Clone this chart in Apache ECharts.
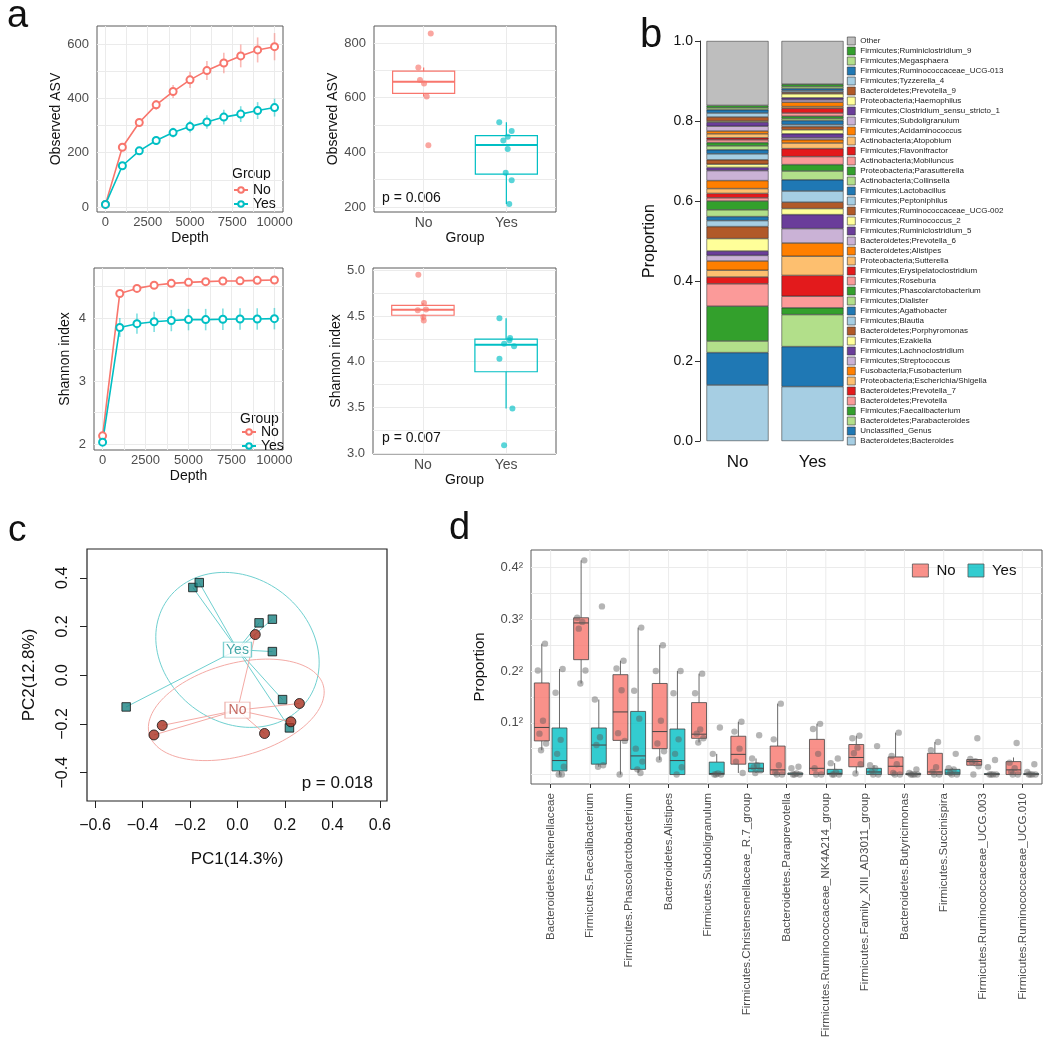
<!DOCTYPE html>
<html>
<head>
<meta charset="utf-8">
<title>Figure</title>
<script src="https://cdn.jsdelivr.net/npm/echarts@6.0.0/dist/echarts.min.js"></script>
<style>
  html, body { margin: 0; padding: 0; background: #fff; }
  #chart { width: 1050px; height: 1048px; }
</style>
</head>
<body>
<div id="chart"></div>
<script>
// ---------- panel a: rarefaction (mean +/- sd) ----------
var depths = [0, 1000, 2000, 3000, 4000, 5000, 6000, 7000, 8000, 9000, 10000];
var asvNo = [10, 220, 311, 376, 425, 468, 502, 530, 556, 578, 590];
var asvNoSd = [0, 8, 12, 18, 24, 30, 35, 38, 42, 46, 50];
var asvYes = [10, 152, 207, 245, 274, 296, 313, 331, 342, 355, 366];
var asvYesSd = [0, 6, 10, 14, 18, 22, 25, 27, 29, 31, 33];
var shanNo = [2.13, 4.39, 4.47, 4.52, 4.55, 4.566, 4.577, 4.587, 4.59, 4.598, 4.603];
var shanNoSd = [0, 0.03, 0.03, 0.03, 0.03, 0.03, 0.03, 0.03, 0.03, 0.03, 0.03];
var shanYes = [2.03, 3.85, 3.91, 3.94, 3.96, 3.975, 3.975, 3.98, 3.985, 3.985, 3.99];
var shanYesSd = [0, 0.15, 0.16, 0.16, 0.17, 0.17, 0.17, 0.17, 0.17, 0.17, 0.17];

// ---------- panel a: boxplots [lower, q1, median, q3, upper] ----------
var asvBoxNo = [604, 616, 658, 697, 710];
var asvBoxYes = [211, 320, 427, 461, 510];
var asvPtsNo = [835, 710, 665, 652, 604, 426];
var asvJitNo = [0.086, -0.064, -0.044, 0.005, 0.037, 0.057];
var asvPtsYes = [510, 478, 457, 443, 412, 325, 298, 211];
var asvJitYes = [-0.086, 0.064, 0.016, -0.037, 0.016, -0.008, 0.064, 0.035];
var shanBoxNo = [4.45, 4.508, 4.567, 4.617, 4.643];
var shanBoxYes = [3.487, 3.89, 4.185, 4.246, 4.475];
var shanPtsNo = [4.952, 4.643, 4.563, 4.57, 4.49, 4.45];
var shanJitNo = [-0.055, 0.013, -0.062, 0.037, 0.005, 0.01];
var shanPtsYes = [4.475, 4.26, 4.235, 4.196, 4.17, 4.033, 3.487, 3.087];
var shanJitYes = [-0.08, 0.048, 0.04, -0.024, 0.096, -0.08, 0.076, -0.024];

// ---------- panel b: genus composition (bottom -> top) ----------
var genera = ['Bacteroidetes;Bacteroides', 'Unclassified_Genus', 'Bacteroidetes;Parabacteroides',
  'Firmicutes;Faecalibacterium', 'Bacteroidetes;Prevotella', 'Bacteroidetes;Prevotella_7',
  'Proteobacteria;Escherichia/Shigella', 'Fusobacteria;Fusobacterium', 'Firmicutes;Streptococcus',
  'Firmicutes;Lachnoclostridium', 'Firmicutes;Ezakiella', 'Bacteroidetes;Porphyromonas',
  'Firmicutes;Blautia', 'Firmicutes;Agathobacter', 'Firmicutes;Dialister',
  'Firmicutes;Phascolarctobacterium', 'Firmicutes;Roseburia', 'Firmicutes;Erysipelatoclostridium',
  'Proteobacteria;Sutterella', 'Bacteroidetes;Alistipes', 'Bacteroidetes;Prevotella_6',
  'Firmicutes;Ruminiclostridium_5', 'Firmicutes;Ruminococcus_2', 'Firmicutes;Ruminococcaceae_UCG-002',
  'Firmicutes;Peptoniphilus', 'Firmicutes;Lactobacillus', 'Actinobacteria;Collinsella',
  'Proteobacteria;Parasutterella', 'Actinobacteria;Mobiluncus', 'Firmicutes;Flavonifractor',
  'Actinobacteria;Atopobium', 'Firmicutes;Acidaminococcus', 'Firmicutes;Subdoligranulum',
  'Firmicutes;Clostridium_sensu_stricto_1', 'Proteobacteria;Haemophilus', 'Bacteroidetes;Prevotella_9',
  'Firmicutes;Tyzzerella_4', 'Firmicutes;Ruminococcaceae_UCG-013', 'Firmicutes;Megasphaera',
  'Firmicutes;Ruminiclostridium_9', 'Other'];
var propNo = [0.14, 0.081, 0.029, 0.087, 0.056, 0.017, 0.017, 0.023, 0.014, 0.011, 0.031, 0.03,
  0.015, 0.01, 0.017, 0.022, 0.008, 0.011, 0.012, 0.02, 0.025, 0.008, 0.008, 0.011, 0.015, 0.01,
  0.01, 0.008, 0.007, 0.005, 0.01, 0.007, 0.012, 0.01, 0.003, 0.01, 0.01, 0.008, 0.005, 0.006, 0.161];
var propYes = [0.136, 0.10, 0.08, 0.017, 0.029, 0.052, 0.048, 0.033, 0.036, 0.035, 0.015, 0.016,
  0.028, 0.028, 0.022, 0.016, 0.02, 0.02, 0.014, 0.008, 0.005, 0.01, 0.01, 0.008, 0.005, 0.01,
  0.005, 0.006, 0.008, 0.012, 0.004, 0.011, 0.006, 0.005, 0.01, 0.004, 0.004, 0.005, 0.005, 0.006, 0.108];
var paired = ['#A6CEE3', '#1F78B4', '#B2DF8A', '#33A02C', '#FB9A99', '#E31A1C',
  '#FDBF6F', '#FF7F00', '#CAB2D6', '#6A3D9A', '#FFFF99', '#B15928'];

// ---------- panel c: PCoA ----------
var pcYes = [[-0.469, -0.13], [-0.188, 0.36], [-0.161, 0.38], [0.091, 0.215],
  [0.147, 0.23], [0.147, 0.097], [0.19, -0.1], [0.219, -0.216]];
var pcNo = [[0.075, 0.167], [0.261, -0.116], [0.225, -0.191], [0.114, -0.239],
  [-0.317, -0.206], [-0.352, -0.245]];
var centerYes = [0.0, 0.105];
var centerNo = [0.0, -0.143];
var ellipseYes = {cx: 0.0, cy: 0.104, a: 0.36, b: 0.30, angle: -32};
var ellipseNo = {cx: -0.005, cy: -0.142, a: 0.38, b: 0.19, angle: 15};

// ---------- panel d: differential genera (sqrt scale) ----------
var dCats = ['Bacteroidetes.Rikenellaceae', 'Firmicutes.Faecalibacterium', 'Firmicutes.Phascolarctobacterium',
  'Bacteroidetes.Alistipes', 'Firmicutes.Subdoligranulum', 'Firmicutes.Christensenellaceae_R.7_group',
  'Bacteroidetes.Paraprevotella', 'Firmicutes.Ruminococcaceae_NK4A214_group',
  'Firmicutes.Family_XIII_AD3011_group', 'Bacteroidetes.Butyricimonas', 'Firmicutes.Succinispira',
  'Firmicutes.Ruminococcaceae_UCG.003', 'Firmicutes.Ruminococcaceae_UCG.010'];
var dBoxNo = [[0.047, 0.065, 0.091, 0.177, 0.253], [0.176, 0.222, 0.293, 0.303, 0.414],
  [0.0, 0.066, 0.121, 0.193, 0.22], [0.028, 0.05, 0.083, 0.176, 0.25], [0.062, 0.07, 0.078, 0.139, 0.195],
  [0.003, 0.02, 0.039, 0.074, 0.102], [0.0, 0.0, 0.009, 0.055, 0.137], [0.0, 0.0, 0.012, 0.068, 0.098],
  [0.002, 0.015, 0.033, 0.058, 0.075], [0.0, 0.0, 0.016, 0.034, 0.081], [0.0, 0.0, 0.005, 0.041, 0.063],
  [0.016, 0.018, 0.025, 0.029, 0.03], [0.0, 0.0, 0.009, 0.025, 0.033]];
var dBoxYes = [[0.0, 0.007, 0.027, 0.09, 0.204], [0.015, 0.02, 0.057, 0.09, 0.145],
  [0.003, 0.01, 0.036, 0.122, 0.284], [0.0, 0.0, 0.027, 0.088, 0.2], [0.0, 0.0, 0.002, 0.024, 0.04],
  [0.003, 0.005, 0.012, 0.022, 0.031], [0.0, 0.0, 0.001, 0.003, 0.003], [0.0, 0.0, 0.002, 0.01, 0.022],
  [0.0, 0.0, 0.005, 0.012, 0.018], [0.0, 0.0, 0.0, 0.002, 0.003], [0.0, 0.0, 0.003, 0.01, 0.012],
  [0.0, 0.0, 0.0, 0.002, 0.003], [0.0, 0.0, 0.0, 0.002, 0.003]];
var dPtsNo = [[0.253, 0.201, 0.104, 0.079, 0.06, 0.047], [0.414, 0.303, 0.295, 0.282, 0.201, 0.176],
  [0.22, 0.205, 0.163, 0.08, 0.065, 0.0], [0.25, 0.2, 0.104, 0.06, 0.045, 0.029],
  [0.195, 0.157, 0.087, 0.079, 0.07, 0.062], [0.102, 0.083, 0.05, 0.025, 0.003],
  [0.137, 0.068, 0.018, 0.004, 0.0, 0.0], [0.098, 0.088, 0.04, 0.012, 0.0, 0.0],
  [0.075, 0.07, 0.052, 0.041, 0.02, 0.002], [0.081, 0.036, 0.02, 0.003, 0.0, 0.0],
  [0.063, 0.047, 0.014, 0.005, 0.0, 0.0], [0.07, 0.03, 0.026, 0.024, 0.016, 0.0],
  [0.061, 0.023, 0.012, 0.005, 0.0, 0.0]];
var dPtsYes = [[0.204, 0.158, 0.067, 0.04, 0.015, 0.0, 0.0], [0.325, 0.145, 0.072, 0.057, 0.018, 0.015],
  [0.284, 0.162, 0.108, 0.05, 0.025, 0.01, 0.003], [0.2, 0.157, 0.068, 0.04, 0.014, 0.0],
  [0.091, 0.04, 0.002, 0.0, 0.0, 0.0], [0.076, 0.031, 0.018, 0.014, 0.008, 0.003],
  [0.015, 0.012, 0.002, 0.0, 0.0, 0.0], [0.031, 0.022, 0.005, 0.0, 0.0, 0.0],
  [0.055, 0.018, 0.012, 0.005, 0.0, 0.0], [0.01, 0.003, 0.0, 0.0, 0.0, 0.0],
  [0.04, 0.012, 0.01, 0.003, 0.0, 0.0], [0.028, 0.014, 0.0, 0.0, 0.0, 0.0],
  [0.02, 0.005, 0.0, 0.0, 0.0, 0.0]];
var dJitter = [0.08, -0.1, 0.03, -0.06, 0.11, -0.02, 0.06];

// ---------- style ----------
var FONT = "'Liberation Sans', Arial, Helvetica, sans-serif";
var NO_COL = '#F8766D', YES_COL = '#00BFC4';
var GRID_LINE = '#ebebeb';
var AXIS_TXT = '#4d4d4d';

var chart = echarts.init(document.getElementById('chart'), null, {renderer: 'canvas'});

function pairs(xs, ys) {
  return xs.map(function (x, i) { return [x, ys[i]]; });
}
function errData(xs, ys, sd) {
  return xs.map(function (x, i) { return [x, ys[i] - sd[i], ys[i] + sd[i]]; });
}
function errItem(color) {
  return function (params, api) {
    var p1 = api.coord([api.value(0), api.value(1)]);
    var p2 = api.coord([api.value(0), api.value(2)]);
    return {type: 'line', shape: {x1: p1[0], y1: p1[1], x2: p2[0], y2: p2[1]},
      style: {stroke: color, lineWidth: 1.6, opacity: 0.5}};
  };
}
function boxItem(shift, half, stroke, fill, lw, medW) {
  return function (params, api) {
    var x = api.value(0);
    var band = api.size([1, 0])[0];
    var cx = api.coord([x, 0])[0] + shift * band;
    var hw = half * band;
    var y = [1, 2, 3, 4, 5].map(function (d) { return api.coord([x, api.value(d)])[1]; });
    var ls = {stroke: stroke, lineWidth: lw};
    return {type: 'group', children: [
      {type: 'line', shape: {x1: cx, y1: y[1], x2: cx, y2: y[0]}, style: ls},
      {type: 'line', shape: {x1: cx, y1: y[3], x2: cx, y2: y[4]}, style: ls},
      {type: 'rect', shape: {x: cx - hw, y: y[3], width: 2 * hw, height: Math.max(y[1] - y[3], 0.6)},
        style: {fill: fill, stroke: stroke, lineWidth: lw}},
      {type: 'line', shape: {x1: cx - hw, y1: y[2], x2: cx + hw, y2: y[2]}, style: {stroke: stroke, lineWidth: medW}}
    ]};
  };
}
function dotItem(shift, color, r) {
  return function (params, api) {
    var x = api.value(0);
    var band = api.size([1, 0])[0];
    var p = api.coord([x, api.value(1)]);
    return {type: 'circle', shape: {cx: p[0] + (shift + api.value(2)) * band, cy: p[1], r: r},
      style: {fill: color}};
  };
}
// vertical grid line through a category centre, spanning the plot
function vGridItem(params, api) {
  var cs = params.coordSys;
  var x = api.coord([api.value(0), 0])[0];
  return {type: 'line', shape: {x1: x, y1: cs.y, x2: x, y2: cs.y + cs.height},
    style: {stroke: GRID_LINE, lineWidth: 1}};
}
function ellipsePoints(e) {
  var pts = [], th = e.angle * Math.PI / 180;
  for (var k = 0; k <= 120; k++) {
    var t = k / 120 * 2 * Math.PI;
    var dx = e.a * Math.cos(t), dy = e.b * Math.sin(t);
    pts.push([e.cx + dx * Math.cos(th) - dy * Math.sin(th), e.cy + dx * Math.sin(th) + dy * Math.cos(th)]);
  }
  return pts;
}
function range(a, b, step) {
  var out = [];
  for (var v = a; v <= b + 1e-9; v += step) out.push(Math.round(v * 1000) / 1000);
  return out;
}
function minus(v) {
  return (v < -1e-9 ? '\u2212' : '') + Math.abs(v).toFixed(1);
}

// ggplot-like value axis: grid = panel frame, custom break positions
function ggAxis(gi, min, max, breaks, labels, fmt, name, nameGap, margin, fontSize) {
  return {
    type: 'value', gridIndex: gi, min: min, max: max,
    axisLine: {show: false, onZero: false},
    axisTick: {show: false, customValues: breaks},
    splitLine: {show: true, lineStyle: {color: GRID_LINE, width: 1}},
    axisLabel: {customValues: labels, color: AXIS_TXT, fontSize: fontSize || 13, margin: margin, formatter: fmt},
    name: name, nameLocation: 'middle', nameGap: nameGap,
    nameTextStyle: {color: '#111', fontSize: 14}
  };
}
function groupFmt(v) { return Math.round(v) === 1 ? 'No' : 'Yes'; }
function plainFmt(v) { return String(v); }

var frame = {show: true, borderColor: '#5a5a5a', borderWidth: 1, backgroundColor: '#fff', outerBoundsMode: 'none'};
var grids = [
  Object.assign({left: 97, top: 26, width: 186, height: 186}, frame),
  Object.assign({left: 374, top: 26, width: 182, height: 186}, frame),
  Object.assign({left: 94, top: 268, width: 189, height: 182}, frame),
  Object.assign({left: 373, top: 268, width: 183, height: 186}, frame),
  {left: 700, top: 41, width: 150, height: 400, outerBoundsMode: 'none'},
  {left: 87, top: 549, width: 300, height: 252, show: true, borderColor: '#222', borderWidth: 1.2, outerBoundsMode: 'none'},
  Object.assign({left: 531, top: 550, width: 511, height: 234}, frame)
];

var cTicksX = [-0.6, -0.4, -0.2, 0, 0.2, 0.4, 0.6];
var cTicksY = [-0.4, -0.2, 0, 0.2, 0.4];

var xAxes = [
  ggAxis(0, -500, 10500, range(0, 10000, 1250), range(0, 10000, 2500), plainFmt, 'Depth', 19, 4),
  ggAxis(1, 0.4, 2.6, [1, 2], [1, 2], groupFmt, 'Group', 16, 4, 14),
  ggAxis(2, -500, 10500, range(0, 10000, 1250), range(0, 10000, 2500), plainFmt, 'Depth', 19, 4),
  ggAxis(3, 0.4, 2.6, [1, 2], [1, 2], groupFmt, 'Group', 16, 4, 14),
  {type: 'category', gridIndex: 4, data: ['No', 'Yes'], axisLine: {show: false}, axisTick: {show: false},
    splitLine: {show: false}, axisLabel: {fontSize: 17, color: '#111', margin: 13}},
  {type: 'value', gridIndex: 5, min: -0.634, max: 0.63, axisLine: {show: false, onZero: false},
    axisTick: {show: true, length: 7, customValues: cTicksX, lineStyle: {color: '#222'}},
    splitLine: {show: false},
    axisLabel: {customValues: cTicksX, fontSize: 16, color: '#111', margin: 17, formatter: minus},
    name: 'PC1(14.3%)', nameLocation: 'middle', nameGap: 50, nameTextStyle: {fontSize: 17, color: '#111'}},
  {type: 'category', gridIndex: 6, data: dCats, boundaryGap: true,
    axisLine: {show: false, onZero: false},
    axisTick: {show: true, alignWithLabel: true, length: 4, lineStyle: {color: '#333'}},
    splitLine: {show: false},
    axisLabel: {rotate: 90, interval: 0, fontSize: 11.6, color: AXIS_TXT, margin: 9}}
];
var yAxes = [
  ggAxis(0, -18, 666, range(0, 600, 100), range(0, 600, 200), plainFmt, 'Observed ASV', 33, 8),
  ggAxis(1, 181.7, 862.2, range(200, 800, 100), range(200, 800, 200), plainFmt, 'Observed ASV', 30, 8),
  ggAxis(2, 1.905, 4.794, range(2, 4.5, 0.5), [2, 3, 4], plainFmt, 'Shannon index', 22, 8),
  ggAxis(3, 2.99, 5.025, range(3, 5, 0.25), range(3, 5, 0.5), function (v) { return v.toFixed(1); }, 'Shannon index', 29, 8),
  {type: 'value', gridIndex: 4, min: 0, max: 1, interval: 0.2,
    axisLine: {show: true, lineStyle: {color: '#333'}},
    axisTick: {show: true, length: 5, lineStyle: {color: '#333'}},
    splitLine: {show: false},
    axisLabel: {fontSize: 14, color: '#111', margin: 7, formatter: function (v) { return v.toFixed(1); }},
    name: 'Proportion', nameLocation: 'middle', nameGap: 42, nameTextStyle: {fontSize: 16, color: '#111'}},
  {type: 'value', gridIndex: 5, min: -0.516, max: 0.518, axisLine: {show: false, onZero: false},
    axisTick: {show: true, length: 7, customValues: cTicksY, lineStyle: {color: '#222'}},
    splitLine: {show: false},
    axisLabel: {customValues: cTicksY, fontSize: 16, color: '#111', margin: 16, rotate: 90, formatter: minus},
    name: 'PC2(12.8%)', nameLocation: 'middle', nameGap: 49, nameTextStyle: {fontSize: 17, color: '#111'}},
  ggAxis(6, -0.0183, 0.434, range(0, 0.4, 0.05), [0.1, 0.2, 0.3, 0.4],
    function (v) { return v.toFixed(1) + '\u00b2'; }, 'Proportion', 44, 8)
];
yAxes[6].nameTextStyle = {fontSize: 15, color: '#111'};

var series = [];

// a1 / a3: rarefaction curves
[[0, 'No', 'Yes', asvNo, asvNoSd, asvYes, asvYesSd], [2, 'sNo', 'sYes', shanNo, shanNoSd, shanYes, shanYesSd]]
  .forEach(function (p) {
    var gi = p[0];
    series.push({type: 'custom', xAxisIndex: gi, yAxisIndex: gi, silent: true, z: 1,
      renderItem: errItem(NO_COL), data: errData(depths, p[3], p[4])});
    series.push({type: 'custom', xAxisIndex: gi, yAxisIndex: gi, silent: true, z: 1,
      renderItem: errItem(YES_COL), data: errData(depths, p[5], p[6])});
    series.push({type: 'line', name: p[1], xAxisIndex: gi, yAxisIndex: gi, z: 3, data: pairs(depths, p[3]),
      symbol: 'emptyCircle', symbolSize: 7, showAllSymbol: true, color: NO_COL,
      itemStyle: {borderWidth: 1.3}, lineStyle: {width: 1.6}});
    series.push({type: 'line', name: p[2], xAxisIndex: gi, yAxisIndex: gi, z: 3, data: pairs(depths, p[5]),
      symbol: 'emptyCircle', symbolSize: 7, showAllSymbol: true, color: YES_COL,
      itemStyle: {borderWidth: 1.3}, lineStyle: {width: 1.6}});
  });

// a2 / a4: boxplots with jittered points
[[1, asvBoxNo, asvBoxYes, asvPtsNo, asvJitNo, asvPtsYes, asvJitYes],
 [3, shanBoxNo, shanBoxYes, shanPtsNo, shanJitNo, shanPtsYes, shanJitYes]].forEach(function (p) {
  var gi = p[0];
  series.push({type: 'custom', xAxisIndex: gi, yAxisIndex: gi, silent: true, z: 2,
    renderItem: boxItem(0, 0.375, NO_COL, 'rgba(255,255,255,0)', 1.2, 2),
    data: [[1].concat(p[1])]});
  series.push({type: 'custom', xAxisIndex: gi, yAxisIndex: gi, silent: true, z: 2,
    renderItem: boxItem(0, 0.375, YES_COL, 'rgba(255,255,255,0)', 1.2, 2),
    data: [[2].concat(p[2])]});
  series.push({type: 'scatter', xAxisIndex: gi, yAxisIndex: gi, silent: true, z: 3, symbolSize: 6,
    itemStyle: {color: NO_COL, opacity: 0.65},
    data: p[3].map(function (v, i) { return [1 + p[4][i], v]; })});
  series.push({type: 'scatter', xAxisIndex: gi, yAxisIndex: gi, silent: true, z: 3, symbolSize: 6,
    itemStyle: {color: YES_COL, opacity: 0.65},
    data: p[5].map(function (v, i) { return [2 + p[6][i], v]; })});
});

// b: stacked composition bars
genera.forEach(function (g, i) {
  series.push({type: 'bar', name: g, xAxisIndex: 4, yAxisIndex: 4, stack: 'genus', barWidth: 62,
    data: [propNo[i], propYes[i]],
    itemStyle: {color: g === 'Other' ? '#BEBEBE' : paired[i % 12], borderColor: '#222', borderWidth: 0.5}});
});

// c: PCoA
[[ellipseYes, '#6fd0d0'], [ellipseNo, '#f4aaa5']].forEach(function (e) {
  series.push({type: 'line', xAxisIndex: 5, yAxisIndex: 5, silent: true, z: 1, showSymbol: false,
    data: ellipsePoints(e[0]), lineStyle: {color: e[1], width: 1}});
});
series.push({type: 'lines', coordinateSystem: 'cartesian2d', xAxisIndex: 5, yAxisIndex: 5, silent: true, z: 2,
  lineStyle: {color: '#6fd0d0', width: 1, opacity: 1},
  data: pcYes.map(function (p) { return {coords: [centerYes, p]}; })});
series.push({type: 'lines', coordinateSystem: 'cartesian2d', xAxisIndex: 5, yAxisIndex: 5, silent: true, z: 2,
  lineStyle: {color: '#f4aaa5', width: 1, opacity: 1},
  data: pcNo.map(function (p) { return {coords: [centerNo, p]}; })});
series.push({type: 'scatter', xAxisIndex: 5, yAxisIndex: 5, silent: true, z: 3,
  symbol: 'rect', symbolSize: [28, 15],
  itemStyle: {color: '#fff', borderColor: '#5cc6c6', borderWidth: 1},
  label: {show: true, position: 'inside', formatter: 'Yes', color: '#1a9494', fontSize: 14},
  data: [centerYes]});
series.push({type: 'scatter', xAxisIndex: 5, yAxisIndex: 5, silent: true, z: 3,
  symbol: 'rect', symbolSize: [25, 16],
  itemStyle: {color: '#fff', borderColor: '#e99d96', borderWidth: 1},
  label: {show: true, position: 'inside', formatter: 'No', color: '#b5443a', fontSize: 14},
  data: [centerNo]});
series.push({type: 'scatter', xAxisIndex: 5, yAxisIndex: 5, silent: true, z: 4, symbol: 'rect', symbolSize: 8.5,
  itemStyle: {color: '#1a8282', borderColor: '#111', borderWidth: 1}, data: pcYes});
series.push({type: 'scatter', xAxisIndex: 5, yAxisIndex: 5, silent: true, z: 4, symbol: 'circle', symbolSize: 10,
  itemStyle: {color: '#a8301f', borderColor: '#111', borderWidth: 1}, data: pcNo});

// d: boxplots per genus (sqrt scale)
function dPoints(ptsList) {
  var out = [];
  ptsList.forEach(function (vals, i) {
    vals.forEach(function (v, j) { out.push([i, v, dJitter[j % dJitter.length]]); });
  });
  return out;
}
series.push({type: 'custom', xAxisIndex: 6, yAxisIndex: 6, silent: true, z: 1, encode: {x: 0},
  renderItem: vGridItem, data: dCats.map(function (c, i) { return [i]; })});
series.push({type: 'custom', name: 'dNo', xAxisIndex: 6, yAxisIndex: 6, silent: true, z: 2,
  itemStyle: {color: 'rgba(248,118,109,0.8)'}, encode: {x: 0, y: [1, 2, 3, 4, 5]},
  renderItem: boxItem(-0.225, 0.19, '#444', 'rgba(248,118,109,0.8)', 0.8, 1),
  data: dBoxNo.map(function (b, i) { return [i].concat(b); })});
series.push({type: 'custom', name: 'dYes', xAxisIndex: 6, yAxisIndex: 6, silent: true, z: 2,
  itemStyle: {color: 'rgba(0,191,196,0.8)'}, encode: {x: 0, y: [1, 2, 3, 4, 5]},
  renderItem: boxItem(0.225, 0.19, '#444', 'rgba(0,191,196,0.8)', 0.8, 1),
  data: dBoxYes.map(function (b, i) { return [i].concat(b); })});
series.push({type: 'custom', xAxisIndex: 6, yAxisIndex: 6, silent: true, z: 3, encode: {x: 0, y: 1},
  renderItem: dotItem(-0.225, 'rgba(90,90,90,0.45)', 3.2), data: dPoints(dPtsNo)});
series.push({type: 'custom', xAxisIndex: 6, yAxisIndex: 6, silent: true, z: 3, encode: {x: 0, y: 1},
  renderItem: dotItem(0.225, 'rgba(90,90,90,0.45)', 3.2), data: dPoints(dPtsYes)});

function stripPrefix(n) { return n.replace(/^[sd]/, ''); }

var legends = [
  {data: ['No', 'Yes'], orient: 'vertical', left: 233, top: 183, padding: 0, itemGap: 0,
    itemWidth: 14, itemHeight: 7, textStyle: {fontSize: 14, lineHeight: 14, color: '#111'}},
  {data: ['sNo', 'sYes'], formatter: stripPrefix, orient: 'vertical', left: 241, top: 425, padding: 0, itemGap: 0,
    itemWidth: 14, itemHeight: 7, textStyle: {fontSize: 14, lineHeight: 12.5, color: '#111'}},
  {data: genera.slice().reverse(), orient: 'vertical', left: 847, top: 36, padding: 0, itemGap: 0,
    itemWidth: 8, itemHeight: 8, icon: 'rect', itemStyle: {borderColor: '#333', borderWidth: 0.6},
    textStyle: {fontSize: 8, lineHeight: 10, color: '#222'}},
  {data: ['dNo', 'dYes'], formatter: stripPrefix, orient: 'horizontal', left: 912, top: 563, padding: 0,
    itemGap: 12, itemWidth: 16, itemHeight: 13, icon: 'rect', itemStyle: {borderColor: '#555', borderWidth: 0.8},
    textStyle: {fontSize: 15, color: '#111', padding: [0, 0, 0, 3]}}
];

function txt(x, y, s, size, align, color) {
  return {type: 'text', x: x, y: y, silent: true,
    style: {text: s, fontSize: size, fontFamily: FONT, fill: color || '#111',
      textAlign: align || 'left', textVerticalAlign: 'middle', align: align || 'left', verticalAlign: 'middle'}};
}
var graphics = [
  txt(7, 17, 'a', 38),
  txt(640, 36, 'b', 40),
  txt(8, 531, 'c', 37),
  txt(449, 529, 'd', 38),
  txt(232, 174, 'Group', 14),
  txt(240, 419, 'Group', 14),
  txt(382, 198, 'p = 0.006', 14),
  txt(382, 438, 'p = 0.007', 14),
  txt(373, 783, 'p = 0.018', 17, 'right')
];

chart.setOption({
  animation: false,
  backgroundColor: '#fff',
  textStyle: {fontFamily: FONT},
  grid: grids,
  xAxis: xAxes,
  yAxis: yAxes,
  legend: legends,
  graphic: graphics,
  series: series
});
</script>
</body>
</html>
